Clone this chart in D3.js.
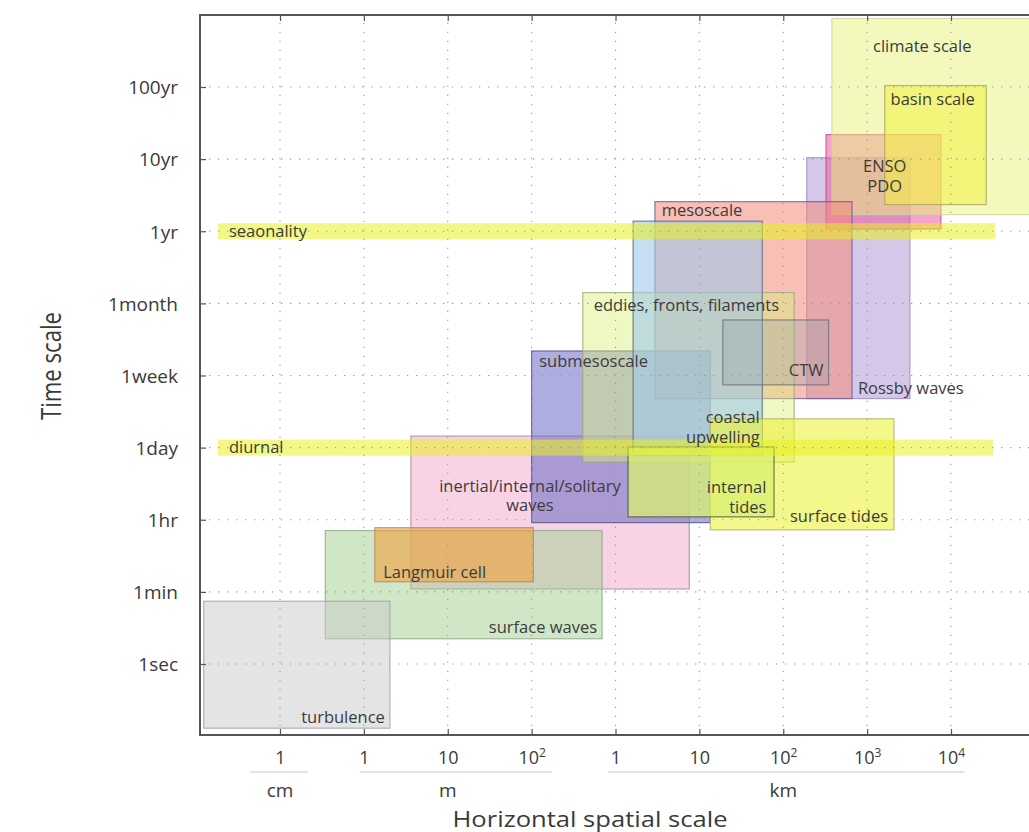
<!DOCTYPE html>
<html><head><meta charset="utf-8">
<script src="https://cdn.jsdelivr.net/npm/d3@7"></script>
<style>
body{margin:0;background:#fff;}
text{font-family:"Open Sans","Noto Sans",sans-serif;}
</style></head>
<body><svg id="c" width="1029" height="832"></svg>
<script>
// ---- data (axis units: x = decade index, 0 = 1 cm, 1 = 1 m, ... 8 = 10^4 km; y = 0 = 1sec ... 8 = 100yr)
const xTickValues = [0,1,2,3,4,5,6,7,8];
const xTickLabels = ["1","1","10","10^2","1","10","10^2","10^3","10^4"];
const yTickValues = [0,1,2,3,4,5,6,7,8];
const yTickLabels = ["1sec","1min","1hr","1day","1week","1month","1yr","10yr","100yr"];
const unitNames   = ["cm","m","km"];
const unitCenters = [0, 2, 6];
const unitFrom    = [-0.36, 0.95, 3.91];
const unitTo      = [0.33, 3.24, 8.16];

// phenomena boxes (drawing order): name, x extent, y extent
const boxNames = ["Rossby waves","ENSO PDO","climate scale","basin scale","mesoscale",
  "inertial/internal/solitary waves","submesoscale","eddies, fronts, filaments","coastal upwelling","CTW",
  "surface tides","internal tides","surface waves","Langmuir cell","turbulence"];
const boxX0 = [6.28, 6.51, 6.58, 7.21, 4.47, 1.56, 3.00, 3.61, 4.21, 5.28, 5.13, 4.15, 0.54, 1.13, -0.91];
const boxX1 = [7.51, 7.88, 9.10, 8.42, 6.82, 4.88, 5.13, 6.13, 5.75, 6.54, 7.32, 5.89, 3.84, 3.02, 1.31];
const boxY0 = [3.68, 6.03, 6.23, 6.37, 3.68, 1.04, 1.96, 2.80, 2.89, 3.87, 1.86, 2.04, 0.35, 1.14, -0.89];
const boxY1 = [7.02, 7.34, 8.95, 8.02, 6.41, 3.16, 4.34, 5.15, 6.14, 4.77, 3.40, 3.01, 1.85, 1.89, 0.87];

// box labels: lines, anchor point in axis units, alignment (same order as boxes)
const labelLines = [["Rossby waves"],["ENSO","PDO"],["climate scale"],["basin scale"],["mesoscale"],
  ["inertial/internal/solitary","waves"],["submesoscale"],["eddies, fronts, filaments"],["coastal","upwelling"],["CTW"],
  ["surface tides"],["internal","tides"],["surface waves"],["Langmuir cell"],["turbulence"]];
const labelX = [6.89, 7.21, 7.07, 7.28, 4.55, 2.98, 3.09, 3.74, 5.72, 6.48, 7.25, 5.80, 3.78, 1.23, 1.25];
const labelY = [3.75, 6.82, 8.49, 7.75, 6.21, 2.39, 4.12, 4.90, 3.34, 3.99, 1.97, 2.37, 0.43, 1.19, -0.82];
const labelAlign = ["start","middle","start","start","start","middle","start","start","end","end","end","end","end","start","end"];

// horizontal bands
const bandNames = ["seaonality","diurnal"];
const bandY     = [6, 3];
const bandX0    = [-0.74, -0.74];
const bandX1    = [8.53, 8.50];

// ---- styles
const boxStyle = {
 "climate scale":{f:"#e8f27a",o:0.5,s:"#cfd3a0"},
 "basin scale":{f:"#f4f23a",o:0.5,s:"#a8a860"},
 "ENSO PDO":{f:"#ec5aa0",o:0.55,s:"#c04a88"},
 "Rossby waves":{f:"#b8a2d8",o:0.6,s:"#9a88c0"},
 "mesoscale":{f:"#f28a7a",o:0.55,s:"#6a5a9a"},
 "coastal upwelling":{f:"#a0c8ea",o:0.6,s:"#5a6a7a"},
 "eddies, fronts, filaments":{f:"#d8f07a",o:0.45,s:"#a0a878"},
 "submesoscale":{f:"#6a6ac4",o:0.55,s:"#50508a"},
 "CTW":{f:"#90a0a8",o:0.3,s:"#687078"},
 "surface tides":{f:"#ecf23a",o:0.6,s:"#b0b070"},
 "internal tides":{f:"#d8f070",o:0.75,s:"#505848"},
 "inertial/internal/solitary waves":{f:"#f2a6cc",o:0.5,s:"#a89098"},
 "surface waves":{f:"#9fd08f",o:0.5,s:"#90a888"},
 "Langmuir cell":{f:"#f0a040",o:0.6,s:"#b08860"},
 "turbulence":{f:"#c9c9c9",o:0.5,s:"#a0a0a0"}
};

const W = 1029, H = 832;
const svg = d3.select("#c");
const x = d3.scaleLinear().domain([0,8]).range([280,951]);
const y = d3.scaleLinear().domain([0,8]).range([664,87]);
const pLeft = 200, pRight = W, pTop = 15, pBottom = 735;

// boxes
const gB = svg.append("g");
boxNames.forEach((n,i)=>{
  const st = boxStyle[n];
  const x0 = x(boxX0[i]), x1 = Math.min(x(boxX1[i]), W+5);
  const y0 = y(boxY1[i]), y1 = y(boxY0[i]);
  gB.append("rect").attr("x",x0).attr("y",y0).attr("width",x1-x0).attr("height",y1-y0)
    .attr("fill",st.f).attr("fill-opacity",st.o)
    .attr("stroke",st.s).attr("stroke-opacity",0.8).attr("stroke-width",1.2);
});

// bands
bandNames.forEach((n,i)=>{
  const h = 16;
  svg.append("rect").attr("x",x(bandX0[i])).attr("y",y(bandY[i])-h/2)
    .attr("width",x(bandX1[i])-x(bandX0[i])).attr("height",h)
    .attr("fill","#e8f020").attr("fill-opacity",0.55);
});

// grid
const gGrid = svg.append("g").attr("stroke","#9a9a9a").attr("stroke-width",1.1).attr("stroke-dasharray","1.3,7.7");
xTickValues.forEach(v=>{
  gGrid.append("line").attr("x1",x(v)).attr("x2",x(v)).attr("y1",pBottom).attr("y2",pTop);
});
yTickValues.forEach(v=>{
  gGrid.append("line").attr("x1",pLeft).attr("x2",pRight).attr("y1",y(v)).attr("y2",y(v));
});

// axes (inward ticks)
const axB = svg.append("g").attr("transform",`translate(0,${pBottom})`)
  .call(d3.axisBottom(x).tickValues(xTickValues).tickSize(-6).tickSizeOuter(0).tickPadding(16).tickFormat((d,i)=>xTickLabels[i]));
const axT = svg.append("g").attr("transform",`translate(0,${pTop})`)
  .call(d3.axisTop(x).tickValues(xTickValues).tickSize(-6).tickSizeOuter(0).tickFormat(""));
const axL = svg.append("g").attr("transform",`translate(${pLeft},0)`)
  .call(d3.axisLeft(y).tickValues(yTickValues).tickSize(-6).tickSizeOuter(0).tickPadding(22).tickFormat((d,i)=>yTickLabels[i]));
[axB,axT,axL].forEach(a=>{
  a.select(".domain").remove();
  a.selectAll("line").attr("stroke","#555").attr("stroke-width",1.2);
  a.selectAll("text").attr("fill","#3a3a3a").attr("font-family",null);
});
axB.selectAll("text").style("font-size","18px");
axL.selectAll("text").style("font-size","19px").attr("dy","0.36em");
// superscripts
axB.selectAll(".tick text").each(function(d,i){
  const t = xTickLabels[i];
  if(t.includes("^")){
    const [b,e] = t.split("^");
    const s = d3.select(this); s.text(null);
    s.append("tspan").text(b);
    s.append("tspan").attr("dy","-0.6em").style("font-size","12px").text(e);
  }
});
// frame lines
svg.append("path").attr("d",`M${pRight},${pTop}H${pLeft}V${pBottom}H${pRight}`)
  .attr("fill","none").attr("stroke","#555").attr("stroke-width",2);

// unit groups
unitNames.forEach((n,i)=>{
  svg.append("line").attr("x1",x(unitFrom[i])).attr("x2",x(unitTo[i])).attr("y1",772).attr("y2",772)
    .attr("stroke","#d8d8d8").attr("stroke-width",1.5);
  svg.append("text").attr("x",x(unitCenters[i])).attr("y",797).attr("text-anchor","middle")
    .attr("fill","#3a3a3a").style("font-size","19px").text(n);
});

// box labels (one text element per line)
labelLines.forEach((lines,i)=>{
  lines.forEach((l,j)=>{
    svg.append("text").attr("x",x(labelX[i])).attr("y",y(labelY[i]) + j*19.5)
      .attr("text-anchor",labelAlign[i]).attr("fill","#3c3c3c").style("font-size","16.5px").text(l);
  });
});
// band labels
bandNames.forEach((n,i)=>{
  svg.append("text").attr("x",x(bandX0[i])+11).attr("y",y(bandY[i])).attr("dy","0.35em")
    .attr("fill","#3c3c3c").style("font-size","16.5px").text(n);
});

// axis titles
svg.append("text").attr("transform","translate(61,366) rotate(-90)").attr("text-anchor","middle")
  .attr("fill","#3a3a3a").style("font-size","27px")
  .attr("textLength",108).attr("lengthAdjust","spacingAndGlyphs").text("Time scale");
svg.append("text").attr("x",590).attr("y",827).attr("text-anchor","middle")
  .attr("fill","#3a3a3a").style("font-size","21px")
  .attr("textLength",275).attr("lengthAdjust","spacingAndGlyphs").text("Horizontal spatial scale");
</script></body></html>
